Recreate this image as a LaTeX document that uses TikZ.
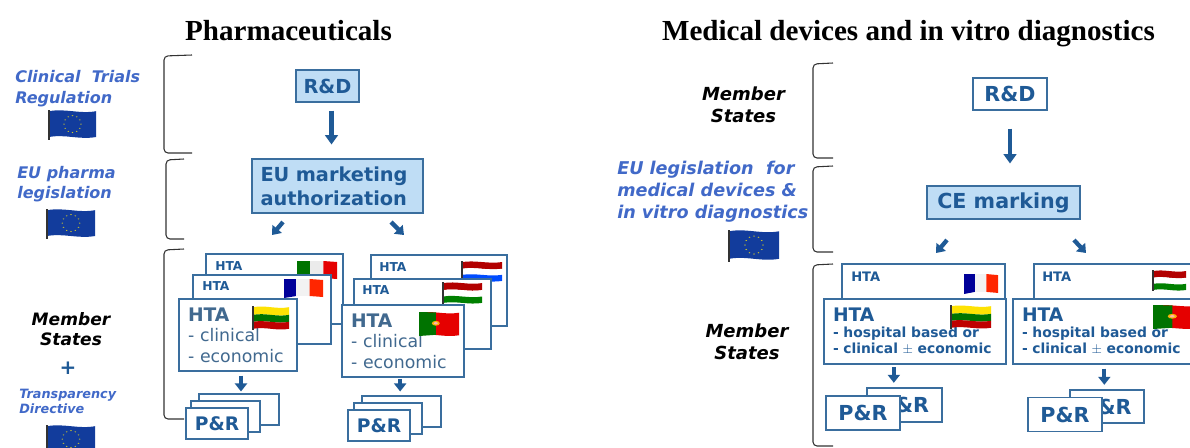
\documentclass[tikz,border=0pt]{standalone}
\usepackage{fontspec}
\setmainfont{Liberation Serif}
\setsansfont{DejaVu Sans}
\usetikzlibrary{arrows.meta}

\def\px{0.75pt}
\definecolor{boxblue}{HTML}{1F5A96}
\definecolor{edgeblue}{HTML}{3A6E9E}
\definecolor{fillblue}{HTML}{BFDDF5}
\definecolor{textgrey}{HTML}{41698F}
\definecolor{legalblue}{HTML}{4169C8}
\definecolor{eublue}{HTML}{123C9C}

\tikzset{
	title/.style={font=\bfseries\fontsize{21.8}{24}\selectfont, inner sep=0pt, anchor=base},
	bracket/.style={draw=black!80, line width=0.8pt, rounded corners=3pt},
	legal/.style={font=\sffamily\bfseries\itshape\fontsize{12}{15.5}\selectfont,
		text=legalblue, align=left, anchor=west, inner sep=0pt},
	states/.style={font=\sffamily\bfseries\itshape\fontsize{12.8}{15}\selectfont,
		align=center, inner sep=0pt},
	box/.style={draw=edgeblue, line width=0.8pt, fill=white, text=boxblue, inner sep=0pt,
		font=\sffamily\bfseries\fontsize{14.5}{18}\selectfont},
	bluebox/.style={box, fill=fillblue},
	htatag/.style={font=\sffamily\bfseries\fontsize{9.2}{11}\selectfont,
		text=boxblue, anchor=west, inner sep=0pt},
	htalist/.style={box, align=left, anchor=center, text=textgrey,
		font=\sffamily\fontsize{13}{15.4}\selectfont},
	hospital/.style={box, align=left, anchor=center,
		font=\sffamily\bfseries\fontsize{10.4}{12}\selectfont},
	bigarrow/.style={draw=boxblue, line width=3.2pt, -{Triangle[length=7pt,width=9.5pt]}},
	smallarrow/.style={draw=boxblue, line width=3.2pt, -{Triangle[length=6pt,width=9pt]}}
}

% Wavy flag with three stripes lying down
\newcommand{\flagband}[3]{\fill[#3] (0,#1) .. controls (0.35,#1-0.1) and (0.65,#1+0.1) .. (1,#1)
	-- (1,#2) .. controls (0.65,#2+0.1) and (0.35,#2-0.1) .. (0,#2) -- cycle;}
\newcommand{\bandflag}[7]{\begin{scope}[shift={(#1,#2)},xscale=#3,yscale=#4]
	\flagband{0.05}{0.37}{#5}\flagband{0.37}{0.66}{#6}\flagband{0.66}{0.95}{#7}
	\draw[black!80, line width=1pt] (0,0) -- (0,1);
	\end{scope}}
% Flag with three upright stripes
\newcommand{\stripeflag}[7]{\begin{scope}[shift={(#1,#2)},xscale=#3,yscale=#4]
	\fill[#5] (0,0.05) -- (0.32,0.05) -- (0.32,0.9) -- (0,1) -- cycle;
	\fill[#6] (0.32,0.05) -- (0.66,0.05) -- (0.66,0.9) -- (0.32,0.9) -- cycle;
	\fill[#7] (0.66,0.05) -- (1,0.1) -- (1,0.95) -- (0.66,0.9) -- cycle;
	\end{scope}}
% Portuguese flag
\newcommand{\ptflag}[4]{\begin{scope}[shift={(#1,#2)},xscale=#3,yscale=#4]
	\flagband{0.03}{0.97}{red!90!black}
	\fill[green!45!black] (0,0) -- (0.42,0.02) -- (0.42,0.95) -- (0,1) -- cycle;
	\fill[yellow!70!red] (0.42,0.47) circle (0.1);
	\fill[white!70!red] (0.42,0.47) circle (0.05);
	\end{scope}}
% European flag
\newcommand{\euflag}[4]{\begin{scope}[shift={(#1,#2)},xscale=#3,yscale=#4]
	\flagband{0.04}{0.9}{eublue}
	\draw[black!80, line width=1pt] (0,0) -- (0,1);
	\foreach \ang in {0,30,...,330}
		\fill[yellow!80!black] ({0.5+0.18*cos(\ang)},{0.47+0.28*sin(\ang)}) circle (0.018);
	\end{scope}}

\begin{document}
\begin{tikzpicture}[x=0.75pt,y=-0.75pt]

	\path[use as bounding box, clip] (0,0) rectangle (1190,447);

	% Titles
	\node [title] (pharma) at (288.5,40) {Pharmaceuticals};
	\node [title] (devices) at (908.5,40) {Medical devices and in vitro diagnostics};

	% Brackets left
	\draw [bracket] (192,55) -- (164,56) -- (164,153) -- (192,153);
	\draw [bracket] (184,159) -- (166,160) -- (166,239) -- (184,239);
	\draw [bracket] (184,249) -- (164,250) -- (164,419) -- (184,419);

	% Brackets right
	\draw [bracket] (833,63) -- (813,64) -- (813,158) -- (833,158);
	\draw [bracket] (833,166) -- (813,167) -- (813,252) -- (833,252);
	\draw [bracket] (833,264) -- (813,265) -- (813,446) -- (833,446);

	% Labels left
	\node [legal] (trials) at (15,88.5) {Clinical\ \ Trials\\Regulation};
	\euflag{49}{110}{47}{30}
	\node [legal] (legislation) at (17,184) {EU pharma\\legislation};
	\euflag{47}{209}{48}{30}
	\node [states] (statesa) at (71,329) {Member\\States};
	\node [font=\sffamily\bfseries\fontsize{15}{15}\selectfont, text=boxblue, inner sep=0pt] (plus) at (68,368) {+};
	\node [legal, font=\sffamily\bfseries\itshape\fontsize{9.6}{11.2}\selectfont] (directive) at (19,401.5) {Transparency\\Directive};
	\euflag{47}{425}{48}{30}

	% Labels right
	\node [states, font=\sffamily\bfseries\itshape\fontsize{13.5}{16.5}\selectfont] (statesb) at (743.5,105) {Member\\States};
	\node [legal, font=\sffamily\bfseries\itshape\fontsize{13.2}{16.5}\selectfont] (law) at (617,192) {EU legislation\ \ for\\medical devices \&\\in vitro diagnostics};
	\euflag{729}{230}{50}{32}
	\node [states, font=\sffamily\bfseries\itshape\fontsize{13.5}{16.5}\selectfont] (statesc) at (747,342) {Member\\States};

	% Pharmaceuticals, top
	\node [bluebox, minimum width=63*\px, minimum height=32*\px] (rd) at (327.5,86) {R\&D};
	\node [bluebox, align=left, text width=154*\px, minimum width=171*\px, minimum height=54*\px] (eu) at (337.5,186) {EU marketing\\authorization};
	\coordinate (eula) at (283,222);
	\coordinate (eulb) at (272,235);
	\coordinate (eura) at (391,222);
	\coordinate (eurb) at (404,235);

	% HTA stack one
	\node [box, minimum width=137*\px, minimum height=70*\px] (htala) at (274.5,289) {};
	\node [htatag] (tagla) at (215,266) {HTA};
	\stripeflag{297}{260}{40}{20}{green!45!black}{black!8}{red!90!black}
	\node [box, minimum width=138*\px, minimum height=69*\px] (htalb) at (262,309.5) {};
	\node [htatag] (taglb) at (202,286) {HTA};
	\stripeflag{284}{278}{39}{20}{blue!60!black}{black!5}{red!70!orange}
	\node [htalist, minimum width=118*\px, minimum height=72*\px, text width=100*\px] (htalc) at (238,335)
		{{\bfseries\fontsize{14}{15.4}\selectfont HTA}\\- clinical\\- economic};
	\bandflag{253}{306}{36}{24}{yellow!85!orange}{green!45!black}{red!75!black}

	% HTA stack two
	\node [box, minimum width=136*\px, minimum height=71*\px] (htara) at (439,290.5) {};
	\node [htatag] (tagra) at (379,267) {HTA};
	\bandflag{462}{261}{40}{21}{red!70!black}{white}{blue!70!cyan}
	\node [box, minimum width=137*\px, minimum height=70*\px] (htarb) at (422.5,314) {};
	\node [htatag] (tagrb) at (362,290) {HTA};
	\bandflag{443}{282}{39}{22}{red!70!black}{white}{green!50!black}
	\node [htalist, minimum width=122*\px, minimum height=72*\px, text width=104*\px] (htarc) at (403,341)
		{{\bfseries\fontsize{14}{15.4}\selectfont HTA}\\- clinical\\- economic};
	\ptflag{419}{312}{40}{24}

	% P&R stacks
	\node [box, minimum width=80*\px, minimum height=31*\px] (prla) at (239,409.5) {};
	\node [box, minimum width=69*\px, minimum height=31*\px] (prlb) at (225.5,416.5) {};
	\node [box, font=\sffamily\bfseries\fontsize{14}{16}\selectfont, minimum width=62*\px, minimum height=31*\px] (prlc) at (217,423.5) {P\&R};
	\node [box, minimum width=79*\px, minimum height=31*\px] (prra) at (401.5,411.5) {};
	\node [box, minimum width=68*\px, minimum height=31*\px] (prrb) at (388,418.5) {};
	\node [box, font=\sffamily\bfseries\fontsize{14}{16}\selectfont, minimum width=62*\px, minimum height=31*\px] (prrc) at (379,425.5) {P\&R};

	% Arrows left
	\draw [bigarrow, shorten <=6pt, shorten >=10.5pt] (rd.south -| eu.north) ++(-4.5pt,0) coordinate (rdout) -- (rdout |- eu.north);
	\draw [smallarrow] (eula) -- (eulb);
	\draw [smallarrow] (eura) -- (eurb);
	\draw [smallarrow, shorten <=3pt, shorten >=1.5pt] ([xshift=1.5pt]htalc.south -| prla.north) -- ([xshift=1.5pt]prla.north);
	\draw [smallarrow, shorten <=1pt, shorten >=3pt] ([xshift=-1pt]htarc.south -| prra.north) -- ([xshift=-1pt]prra.north);

	% Medical devices, top
	\node [box, font=\sffamily\bfseries\fontsize{15.5}{18}\selectfont, minimum width=74*\px, minimum height=32*\px] (rdb) at (1010,94) {R\&D};
	\node [bluebox, font=\sffamily\bfseries\fontsize{15.5}{18}\selectfont, minimum width=153*\px, minimum height=33*\px] (ce) at (1003.5,202.5) {CE marking};
	\coordinate (cela) at (947,240);
	\coordinate (celb) at (936,253);
	\coordinate (cera) at (1074,240);
	\coordinate (cerb) at (1086,253);

	% Hospital boxes one
	\node [box, minimum width=163*\px, minimum height=35*\px] (hospa) at (923.5,281.5) {};
	\node [htatag, font=\sffamily\bfseries\fontsize{9.8}{11}\selectfont] (taga) at (851,277) {HTA};
	\stripeflag{964}{273}{34}{21}{blue!60!black}{black!5}{red!70!orange}
	\node [hospital, minimum width=182*\px, minimum height=65*\px, text width=164*\px] (hospb) at (915,331.5)
		{{\fontsize{14}{16}\selectfont HTA}\\- hospital based or\\- clinical $\pm$ economic};
	\bandflag{951}{305}{40}{24}{yellow!85!orange}{green!45!black}{red!75!black}

	% Hospital boxes two
	\node [box, minimum width=161*\px, minimum height=35*\px] (hospc) at (1114.5,281.5) {};
	\node [htatag, font=\sffamily\bfseries\fontsize{9.8}{11}\selectfont] (tagc) at (1042,277) {HTA};
	\bandflag{1153}{270}{33}{21}{red!70!black}{white}{green!50!black}
	\node [hospital, minimum width=182*\px, minimum height=65*\px, text width=164*\px] (hospd) at (1104,331.5)
		{{\fontsize{14}{16}\selectfont HTA}\\- hospital based or\\- clinical $\pm$ economic};
	\ptflag{1153}{305}{46}{24}

	% P&R pairs
	\node [box, font=\sffamily\bfseries\fontsize{15.5}{18}\selectfont, minimum width=75*\px, minimum height=34*\px] (pra) at (904.5,405) {P\&R};
	\node [box, font=\sffamily\bfseries\fontsize{15.5}{18}\selectfont, minimum width=74*\px, minimum height=34*\px] (prb) at (863,413) {P\&R};
	\node [box, font=\sffamily\bfseries\fontsize{15.5}{18}\selectfont, minimum width=74*\px, minimum height=33*\px] (prc) at (1107,406.5) {P\&R};
	\node [box, font=\sffamily\bfseries\fontsize{15.5}{18}\selectfont, minimum width=74*\px, minimum height=34*\px] (prd) at (1065,414.5) {P\&R};

	% Arrows right
	\draw [bigarrow, shorten <=13.5pt, shorten >=16.5pt] (rdb.south) -- (rdb.south |- ce.north);
	\draw [smallarrow] (cela) -- (celb);
	\draw [smallarrow] (cera) -- (cerb);
	\draw [smallarrow, shorten <=2pt, shorten >=3.5pt] ([xshift=-8pt]pra.north |- hospb.south) -- ([xshift=-8pt]pra.north);
	\draw [smallarrow, shorten <=3pt, shorten >=3.5pt] ([xshift=-2pt]prc.north |- hospd.south) -- ([xshift=-2pt]prc.north);

\end{tikzpicture}
\end{document}
